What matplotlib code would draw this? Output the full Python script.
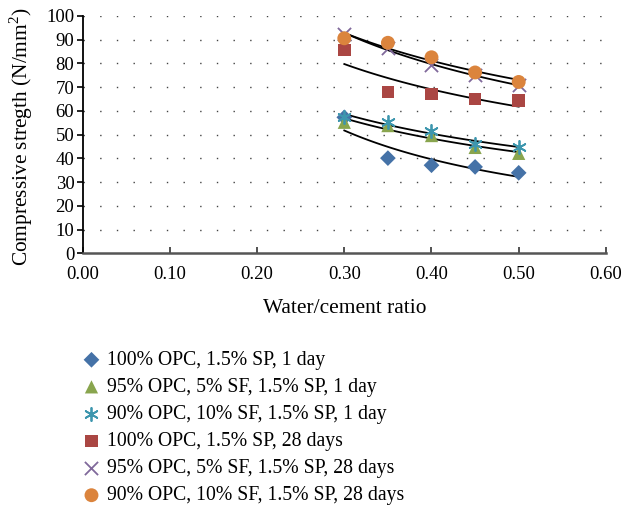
import numpy as np
import matplotlib
matplotlib.use("Agg")
import matplotlib.pyplot as plt

plt.rcParams['font.family'] = ['Liberation Serif', 'DejaVu Serif']
plt.rcParams['mathtext.fontset'] = 'custom'
plt.rcParams['mathtext.rm'] = 'Liberation Serif'

wc = [0.30, 0.35, 0.40, 0.45, 0.50]
labels = ["100% OPC, 1.5% SP, 1 day",
          "95% OPC, 5% SF, 1.5% SP, 1 day",
          "90% OPC, 10% SF, 1.5% SP, 1 day",
          "100% OPC, 1.5% SP, 28 days",
          "95% OPC, 5% SF, 1.5% SP, 28 days",
          "90% OPC, 10% SF, 1.5% SP, 28 days"]
opc100_1d = [57.3, 40.1, 37.1, 36.4, 33.9]
sf5_1d = [55.2, 53.8, 49.6, 44.6, 42.1]
sf10_1d = [57.6, 55.2, 51.7, 46.0, 44.9]
opc100_28d = [85.6, 67.9, 67.2, 65.1, 64.4]
sf5_28d = [92.6, 86.3, 79.2, 75.0, 70.8]
sf10_28d = [90.6, 88.7, 82.6, 76.2, 72.2]
series = [opc100_1d, sf5_1d, sf10_1d, opc100_28d, sf5_28d, sf10_28d]

colors = ['#4572A7', '#89A54E', '#3D96AE', '#AA4643', '#80699B', '#DB843D']
markers = ['D', '^', (6, 2, 0), 's', 'x', 'o']
msizes = [8, 9.5, 9.5, 9, 9.5, 10]

fig = plt.figure(figsize=(6.24, 5.09), dpi=100)
ax = fig.add_axes([0.1325, 0.5024, 0.8385, 0.4662])

for yv in range(10, 101, 10):
    ax.axhline(yv, color='#444444', lw=1.0, ls=(0, (1, 11)), zorder=0)

handles = []
x = np.array(wc)
for s, c, m, ms, lab in zip(series, colors, markers, msizes, labels):
    y = np.array(s)
    b, a = np.polyfit(np.log(x), np.log(y), 1)
    xf = np.linspace(0.30, 0.50, 100)
    ax.plot(xf, np.exp(a) * xf ** b, color='black', lw=1.3, zorder=2)
    if m in ('x', (6, 2, 0)):
        h = ax.scatter(x, y, marker=m, s=ms**2, color=c, linewidths=1.3, zorder=3, label=lab)
    else:
        h = ax.scatter(x, y, marker=m, s=ms**2, color=c, edgecolors='none', zorder=3, label=lab)
    handles.append(h)

ax.set_xlim(0, 0.6)
ax.set_ylim(0, 100)
ax.set_xticks(np.arange(0, 0.61, 0.1))
ax.set_xticklabels([f"{v:.2f}" for v in np.arange(0, 0.61, 0.1)])
ax.set_yticks(range(0, 101, 10))
for sp in ['top', 'right']:
    ax.spines[sp].set_visible(False)
ax.spines['bottom'].set_color('#555555')
ax.spines['bottom'].set_linewidth(1.8)
ax.spines['left'].set_linewidth(1.3)
ax.tick_params(axis='y', direction='out', length=4, width=1.2, labelsize=13.5, pad=2)
ax.tick_params(axis='x', direction='in', length=4, width=1.2, labelsize=13.5, pad=9, color='#333333')
ax.set_xlabel("Water/cement ratio", fontsize=15.4, labelpad=12)
ax.set_ylabel("Compressive stregth (N/mm$^2$)", fontsize=15.4, labelpad=2)
ax.yaxis.set_label_coords(-0.092, 0.49)

fig.legend(handles=handles, labels=labels, loc='upper left', bbox_to_anchor=(0.115, 0.326),
           frameon=False, fontsize=14.2, handletextpad=0.2, labelspacing=0.41,
           handlelength=1.2, borderaxespad=0)

fig.savefig("out.png", dpi=100)
